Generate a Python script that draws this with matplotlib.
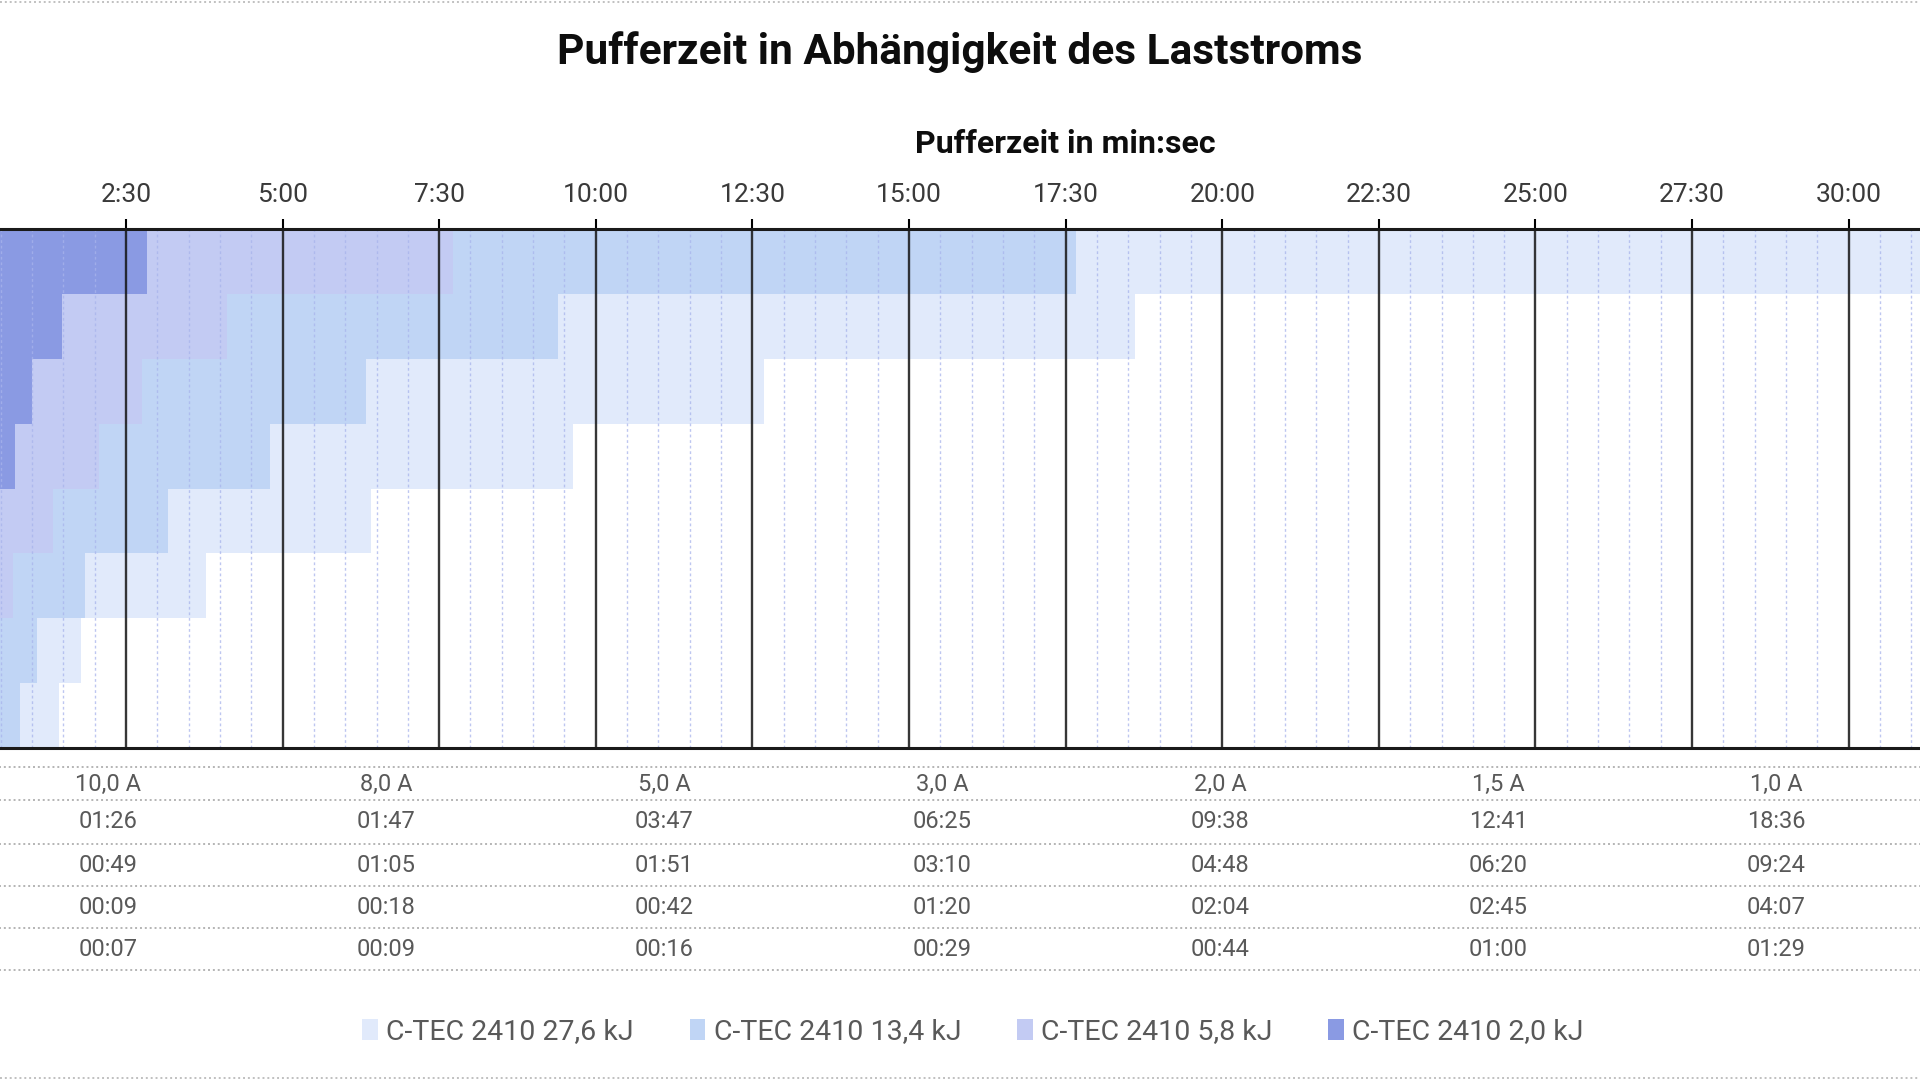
import matplotlib
matplotlib.use("Agg")
import matplotlib.pyplot as plt
from matplotlib.ticker import MultipleLocator, FuncFormatter
from matplotlib.lines import Line2D
import matplotlib.transforms as mtransforms

plt.rcParams['font.family'] = ['Roboto', 'DejaVu Sans']

# ---------------- data ----------------
title = "Pufferzeit in Abhängigkeit des Laststroms"
x_title = "Pufferzeit in min:sec"
categories = ["10,0 A", "8,0 A", "5,0 A", "3,0 A", "2,0 A", "1,5 A", "1,0 A", "0,5 A"]
series_names = ["C-TEC 2410 27,6 kJ", "C-TEC 2410 13,4 kJ",
                "C-TEC 2410 5,8 kJ", "C-TEC 2410 2,0 kJ"]
t_27_6 = ["01:26", "01:47", "03:47", "06:25", "09:38", "12:41", "18:36", "35:00"]
t_13_4 = ["00:49", "01:05", "01:51", "03:10", "04:48", "06:20", "09:24", "17:40"]
t_5_8 = ["00:09", "00:18", "00:42", "01:20", "02:04", "02:45", "04:07", "07:43"]
t_2_0 = ["00:07", "00:09", "00:16", "00:29", "00:44", "01:00", "01:29", "02:50"]
series = [t_27_6, t_13_4, t_5_8, t_2_0]
colors = ["#e1eafb", "#c0d5f5", "#c3cbf3", "#8a9ae3"]
x_ticks = [2.5, 5.0, 7.5, 10.0, 12.5, 15.0, 17.5, 20.0, 22.5, 25.0, 27.5, 30.0]
x_max = 35.5
minor_step = 0.5


def to_min(s):
    m, sec = s.split(":")
    return int(m) + int(sec) / 60.0


def fmt(v, pos=None):
    total = int(round(v * 60))
    return f"{total // 60}:{total % 60:02d}"


# ---------------- figure ----------------
W, H = 1920, 1080
fig = plt.figure(figsize=(W / 100, H / 100), dpi=100)
ax_left, ax_right, ax_top, ax_bottom = -30.7, 2193.3, 229, 748
ax = fig.add_axes([ax_left / W, 1 - ax_bottom / H,
                   (ax_right - ax_left) / W, (ax_bottom - ax_top) / H])

ypos = list(range(len(categories)))
handles = []
for vals, col in zip(series, colors):
    b = ax.barh(ypos, [to_min(v) for v in vals], height=1.0, color=col,
                linewidth=0, zorder=2)
    handles.append(b)

ax.set_xlim(0, x_max)
ax.set_ylim(-0.5, len(categories) - 0.5)
ax.set_yticks([])

ax.xaxis.tick_top()
ax.xaxis.set_label_position('top')
ax.set_xticks(x_ticks)
ax.xaxis.set_minor_locator(MultipleLocator(minor_step))
ax.xaxis.set_major_formatter(FuncFormatter(fmt))
ax.tick_params(axis='x', which='major', direction='out', length=7, width=1.5,
               color='black', labelsize=19, labelcolor='#3a3a3a', pad=9)
ax.tick_params(axis='x', which='minor', length=0)
ax.set_axisbelow(False)
ax.grid(which='major', axis='x', color='#141414', lw=1.7, alpha=0.85)
ax.grid(which='minor', axis='x', color='#a8b4ec', lw=1.0, ls=(0, (2, 2)), alpha=0.75)

for s in ['left', 'right']:
    ax.spines[s].set_visible(False)
for s in ['top', 'bottom']:
    ax.spines[s].set_linewidth(2.2)
    ax.spines[s].set_color('#1a1a1a')
    ax.spines[s].set_zorder(4)

ax.set_xlabel(x_title, fontsize=23, fontweight='bold', color='#0d0d0d')
ax_h = ax_bottom - ax_top
ax.xaxis.set_label_coords((1065 - ax_left) / (ax_right - ax_left),
                          (ax_bottom - 144) / ax_h)
ax.xaxis.label.set_va('center')

fig.text(0.5, 1 - 52 / H, title, ha='center', va='center', fontsize=30.5,
         fontweight='bold', color='#0d0d0d')

# ---------------- data table ----------------
trans = mtransforms.blended_transform_factory(ax.transAxes, fig.transFigure)
ncat = len(categories)
row_lines = [767, 800, 844, 886, 928, 970]
for yl in row_lines:
    ax.plot([-0.05, 1.0], [1 - yl / H] * 2, transform=trans, ls=(0, (1, 1.5)),
            color='#b4b4b4', lw=1.4, clip_on=False)

header_y = 784
value_rows_y = [822, 865, 907, 949]
ax_w = ax_right - ax_left


def col_visible(j):
    cx = ax_left + (j + 0.5) / ncat * ax_w
    return 40 < cx < W - 40


for j, c in enumerate(categories):
    if col_visible(j):
        ax.text((j + 0.5) / ncat, 1 - header_y / H, c, transform=trans, ha='center',
                va='center', fontsize=17, color='#595959', clip_on=False)
for vals, yv in zip(series, value_rows_y):
    for j, v in enumerate(vals):
        if col_visible(j):
            ax.text((j + 0.5) / ncat, 1 - yv / H, v, transform=trans, ha='center',
                    va='center', fontsize=17, color='#595959', clip_on=False)

# ---------------- legend ----------------
fig.legend(handles, series_names, loc='center', bbox_to_anchor=(973 / W, 1 - 1032 / H),
           ncol=4, frameon=False, fontsize=20.5, handlelength=0.55, handleheight=0.8,
           handletextpad=0.3, columnspacing=1.95, labelcolor='#595959')

# chart border (top / bottom, dotted)
for yb in [1.5, 1078]:
    fig.add_artist(Line2D([0, 1], [1 - yb / H] * 2, transform=fig.transFigure,
                          ls=(0, (1, 1.5)), color='#c0c0c0', lw=1.4))

fig.savefig("out.png", dpi=100)
